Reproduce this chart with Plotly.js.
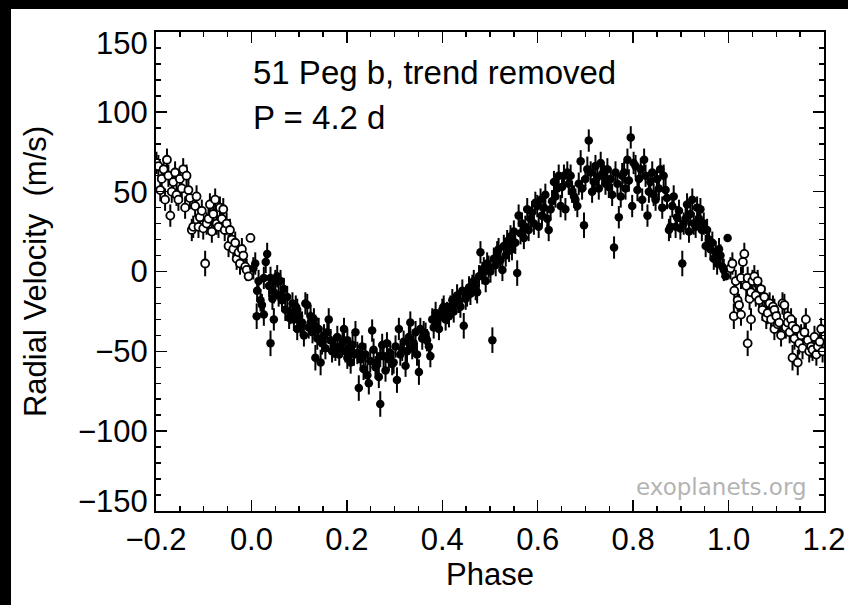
<!DOCTYPE html>
<html>
<head>
<meta charset="utf-8">
<script src="https://cdn.plot.ly/plotly-3.0.1.min.js"></script>
<style>
html,body{margin:0;padding:0;background:#000;width:848px;height:605px;overflow:hidden;}
#chart{position:absolute;left:11px;top:9px;width:837px;height:596px;background:#fff;}
</style>
</head>
<body>
<div id="chart"></div>
<script>
// Phase-folded radial velocities (filled points, phase 0..1)
const phase = [0.004,0.008,0.011,0.012,0.015,0.019,0.022,0.026,0.026,0.030,0.033,0.037,0.040,0.040,0.044,0.047,0.047,0.050,0.054,0.057,0.061,0.064,0.068,0.071,0.075,0.079,0.082,0.086,0.089,0.093,0.096,0.096,0.100,0.103,0.106,0.110,0.113,0.117,0.120,0.124,0.124,0.128,0.131,0.134,0.134,0.138,0.141,0.145,0.148,0.152,0.155,0.159,0.162,0.166,0.169,0.173,0.176,0.180,0.184,0.187,0.191,0.194,0.197,0.201,0.201,0.205,0.208,0.212,0.215,0.218,0.222,0.225,0.229,0.232,0.235,0.239,0.243,0.246,0.249,0.253,0.256,0.260,0.263,0.267,0.270,0.270,0.274,0.277,0.281,0.284,0.288,0.291,0.295,0.298,0.302,0.305,0.309,0.312,0.316,0.319,0.323,0.326,0.330,0.333,0.337,0.340,0.344,0.347,0.351,0.354,0.358,0.361,0.365,0.368,0.372,0.375,0.379,0.382,0.386,0.389,0.393,0.396,0.400,0.403,0.407,0.410,0.414,0.417,0.421,0.424,0.428,0.431,0.435,0.438,0.442,0.445,0.449,0.452,0.456,0.459,0.463,0.466,0.470,0.473,0.477,0.480,0.484,0.487,0.491,0.494,0.497,0.501,0.505,0.508,0.512,0.515,0.518,0.522,0.526,0.529,0.533,0.536,0.540,0.543,0.546,0.550,0.553,0.557,0.560,0.564,0.567,0.571,0.574,0.578,0.581,0.585,0.588,0.592,0.595,0.599,0.602,0.606,0.609,0.613,0.616,0.620,0.623,0.627,0.630,0.634,0.637,0.641,0.644,0.648,0.651,0.655,0.658,0.662,0.665,0.669,0.672,0.676,0.679,0.683,0.686,0.690,0.693,0.697,0.700,0.704,0.707,0.711,0.714,0.718,0.721,0.725,0.728,0.732,0.735,0.739,0.742,0.746,0.749,0.753,0.756,0.760,0.763,0.767,0.770,0.774,0.777,0.781,0.784,0.788,0.791,0.795,0.798,0.801,0.805,0.809,0.812,0.816,0.819,0.823,0.826,0.830,0.833,0.836,0.840,0.843,0.847,0.850,0.854,0.857,0.861,0.864,0.868,0.871,0.875,0.878,0.882,0.885,0.889,0.892,0.896,0.899,0.903,0.906,0.910,0.913,0.917,0.920,0.924,0.927,0.931,0.934,0.938,0.941,0.944,0.948,0.952,0.955,0.959,0.962,0.966,0.969,0.973,0.976,0.980,0.983,0.987,0.990,0.994,0.998];
const rv = [2,5,-28,-12,-6,-18,-21,-4,-27,6,11,-9,-4,-45,-17,-13,-30,-6,-3,-15,-6,-18,-11,-24,-16,-29,-26,-20,-30,-22,-36,-24,-28,-33,-32,-40,-20,-21,-35,-28,-32,-38,-30,-34,-54,-42,-36,-57,-45,-40,-48,-38,-30,-43,-50,-47,-49,-41,-52,-47,-44,-36,-50,-54,-43,-48,-57,-46,-52,-38,-51,-73,-55,-47,-61,-52,-65,-70,-56,-37,-49,-60,-57,-66,-83,-53,-46,-53,-62,-45,-55,-51,-58,-57,-47,-68,-36,-52,-49,-44,-59,-50,-41,-32,-48,-45,-38,-52,-63,-36,-42,-38,-39,-43,-47,-53,-30,-35,-26,-31,-36,-28,-24,-22,-30,-26,-28,-22,-18,-25,-20,-15,-19,-22,-12,-34,-17,-15,-10,-14,-9,-6,-11,-13,-3,12,-1,2,-6,5,3,0,-43,8,4,12,14,7,1,16,10,19,13,22,14,25,18,-1,35,24,30,21,28,39,26,33,37,30,43,41,28,45,35,40,48,33,26,39,44,56,47,52,60,41,53,60,39,62,55,60,50,47,45,41,55,69,52,29,58,64,82,62,50,56,66,59,52,68,61,60,55,64,53,58,48,15,62,55,34,47,60,62,52,70,57,84,41,68,66,51,58,64,45,70,60,35,50,56,62,48,45,58,52,64,40,60,51,46,26,28,41,47,28,34,38,27,5,30,33,42,25,36,45,30,28,40,33,39,26,30,16,26,20,14,18,8,12,5,14,10,3,1,-3,21];
const rvErr = [7,7,8,7,7,7,7,7,7,7,7,7,7,8,7,7,7,7,7,7,7,7,7,7,7,7,7,7,7,7,7,7,7,7,7,7,7,7,7,7,7,7,7,7,8,7,7,8,7,7,7,7,7,7,7,7,7,7,7,7,7,7,7,7,7,7,7,7,7,7,7,8,7,7,7,7,7,7,7,7,7,7,7,7,8,7,7,7,7,7,7,7,7,7,7,8,7,7,7,7,7,7,7,7,7,7,7,7,8,7,7,7,7,7,7,7,7,7,7,7,7,7,7,7,7,7,7,7,7,7,7,7,7,7,7,8,7,7,7,7,7,7,7,7,7,7,7,7,7,7,7,7,8,7,7,7,7,7,7,7,7,7,7,7,7,7,7,8,7,7,7,7,7,7,7,7,7,7,7,7,7,7,7,7,7,7,7,7,7,7,7,7,7,7,7,7,7,7,7,7,7,7,7,7,7,7,7,8,7,8,7,7,7,7,7,7,7,7,7,7,7,7,7,7,7,7,7,8,7,7,8,7,7,7,7,7,7,7,7,7,7,7,7,7,7,7,7,7,7,7,7,7,7,7,7,7,7,7,7,7,7,7,7,7,7,7,8,7,7,7,7,7,7,7,7,7,7,7,7,7,7,7,7,7,7,7,7,7,7,7,7,7];
const xTicks = [-0.2,0.0,0.2,0.4,0.6,0.8,1.0,1.2];
const xTickText = ['\u22120.2','0.0','0.2','0.4','0.6','0.8','1.0','1.2'];
const yTicks = [-150,-100,-50,0,50,100,150];
const yTickText = ['','\u2212100','\u221250','0','50','100',''];
const labelText = ['51 Peg b, trend removed','P = 4.2 d'];

// Repeated cycles (open circles): points wrapped by one period
const wx = [], wy = [], we = [];
for (let i = 0; i < phase.length; i++) {
  if (phase[i] < 0.2) { wx.push(phase[i] + 1); wy.push(rv[i]); we.push(rvErr[i]); }
  if (phase[i] > 0.8) { wx.push(phase[i] - 1); wy.push(rv[i]); we.push(rvErr[i]); }
}

const FONT = '"Liberation Sans", Arial, Helvetica, sans-serif';
const traces = [
  {x: wx, y: wy, type: 'scatter', mode: 'markers',
   error_y: {type: 'data', array: we, visible: true, color: '#000', thickness: 2, width: 0},
   marker: {symbol: 'circle', size: 8, color: '#fff', line: {color: '#000', width: 1.8}},
   hoverinfo: 'skip', showlegend: false, cliponaxis: true},
  {x: phase, y: rv, type: 'scatter', mode: 'markers',
   error_y: {type: 'data', array: rvErr, visible: true, color: '#000', thickness: 2, width: 0},
   marker: {symbol: 'circle', size: 8.5, color: '#000', line: {color: '#000', width: 0}},
   hoverinfo: 'skip', showlegend: false, cliponaxis: true}
];

const layout = {
  width: 837, height: 596,
  margin: {l: 145, r: 24, t: 23, b: 94, pad: 0},
  paper_bgcolor: '#fff', plot_bgcolor: '#fff',
  font: {family: FONT, size: 31, color: '#000'},
  showlegend: false,
  xaxis: {
    range: [-0.2, 1.2], tickmode: 'array', tickvals: xTicks, ticktext: xTickText,
    ticks: 'inside', ticklen: 11, tickwidth: 1.5, tickcolor: '#000',
    showline: true, linecolor: '#000', linewidth: 2, mirror: 'ticks',
    showgrid: false, zeroline: false,
    minor: {tickmode: 'linear', tick0: 0, dtick: 0.05, ticks: 'inside', ticklen: 5, tickwidth: 1.5, tickcolor: '#000', showgrid: false},
    tickfont: {family: FONT, size: 31},
    title: {text: 'Phase', font: {family: FONT, size: 31}, standoff: 4}
  },
  yaxis: {
    range: [-150, 150], tickmode: 'array', tickvals: yTicks, ticktext: yTickText,
    ticks: 'inside', ticklen: 11, tickwidth: 1.5, tickcolor: '#000',
    showline: true, linecolor: '#000', linewidth: 2, mirror: 'ticks',
    showgrid: false, zeroline: false,
    minor: {tickmode: 'linear', tick0: 0, dtick: 10, ticks: 'inside', ticklen: 5, tickwidth: 1.5, tickcolor: '#000', showgrid: false},
    tickfont: {family: FONT, size: 31},
    title: {text: 'Radial Velocity  (m/s)', font: {family: FONT, size: 31}, standoff: 22}
  },
  annotations: [
    {xref: 'paper', yref: 'y', x: 0, y: 150, text: '150', showarrow: false, xanchor: 'right', yanchor: 'middle', xshift: -6, yshift: -11, font: {family: FONT, size: 31}},
    {xref: 'paper', yref: 'y', x: 0, y: -150, text: '\u2212150', showarrow: false, xanchor: 'right', yanchor: 'middle', xshift: -6, yshift: 10, font: {family: FONT, size: 31}},
    {xref: 'paper', yref: 'paper', x: 0.142, y: 0.915, text: labelText[0], showarrow: false, xanchor: 'left', yanchor: 'middle', font: {family: FONT, size: 33}},
    {xref: 'paper', yref: 'paper', x: 0.142, y: 0.822, text: labelText[1], showarrow: false, xanchor: 'left', yanchor: 'middle', font: {family: FONT, size: 33}},
    {xref: 'paper', yref: 'paper', x: 0.977, y: 0.05, text: 'exoplanets.org', showarrow: false, xanchor: 'right', yanchor: 'middle', font: {family: '"DejaVu Sans", sans-serif', size: 23, color: '#b4b4b4'}}
  ]
};

Plotly.newPlot('chart', traces, layout, {staticPlot: true, displayModeBar: false});
</script>
</body>
</html>
